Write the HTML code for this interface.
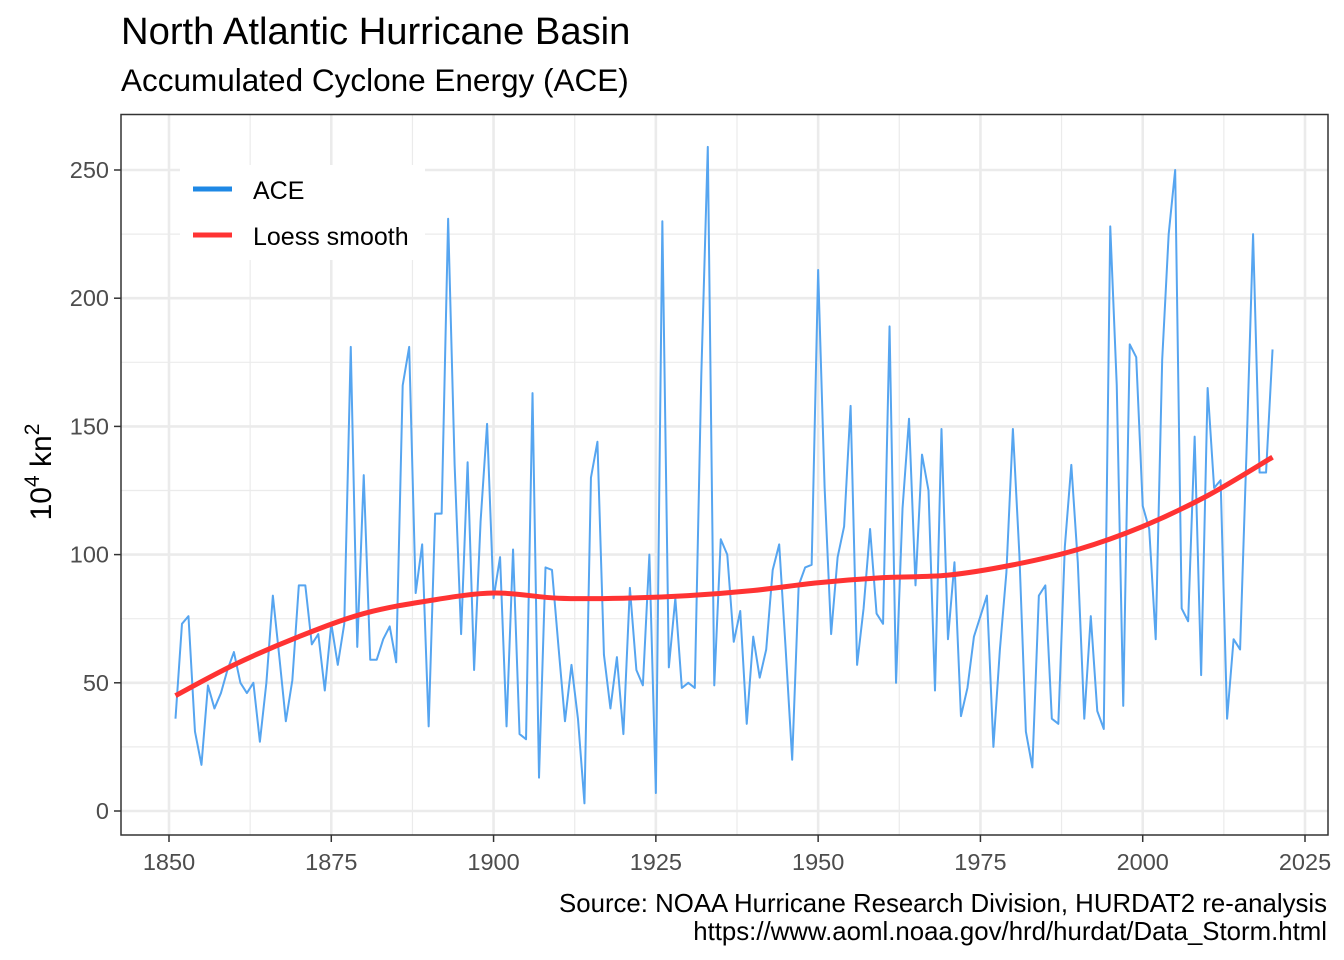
<!DOCTYPE html>
<html><head><meta charset="utf-8">
<style>
html,body{margin:0;padding:0;background:#fff;}
svg{display:block;font-family:"Liberation Sans",Arial,sans-serif;}
</style></head>
<body>
<svg id="chart" width="1344" height="960" viewBox="0 0 1344 960" xmlns="http://www.w3.org/2000/svg">
<rect width="1344" height="960" fill="#fff"/>
<text x="121" y="44" font-size="38.2" fill="#000">North Atlantic Hurricane Basin</text>
<text x="121" y="91" font-size="31.5" fill="#000">Accumulated Cyclone Energy (ACE)</text>
<g id="grid"></g>
<g id="marks"></g>
<rect x="121" y="114.5" width="1207" height="720.5" fill="none" stroke="#333" stroke-width="1.5"/>
<g id="axes"></g>
<text transform="translate(51,472) rotate(-90)" text-anchor="middle" font-size="30" fill="#000">10<tspan dy="-12" font-size="21">4</tspan><tspan dy="12"> kn</tspan><tspan dy="-12" font-size="21">2</tspan></text>
<g>
<rect x="180" y="165" width="245" height="95" fill="#fff"/>
<line x1="193" y1="189" x2="232" y2="189" stroke="#1e88e5" stroke-width="5"/>
<text x="253" y="199" font-size="25" fill="#000">ACE</text>
<line x1="193" y1="235" x2="232" y2="235" stroke="#ff3333" stroke-width="5"/>
<text x="253" y="245" font-size="25" fill="#000">Loess smooth</text>
</g>
<text x="1327" y="912" text-anchor="end" font-size="25.8" fill="#000">Source: NOAA Hurricane Research Division, HURDAT2 re-analysis</text>
<text x="1327" y="940" text-anchor="end" font-size="25.8" fill="#000">https://www.aoml.noaa.gov/hrd/hurdat/Data_Storm.html</text>
</svg>
<script>
const startYear = 1851;
const aceValues = [36,73,76,31,18,49,40,46,55,62,50,46,50,27,50,84,60,35,51,88,
88,65,69,47,73,57,73,181,64,131,59,59,67,72,58,166,181,85,104,33,
116,116,231,135,69,136,55,113,151,83,99,33,102,30,28,163,13,95,94,64,
35,57,36,3,130,144,61,40,60,30,87,55,49,100,7,230,56,83,48,50,
48,170,259,49,106,100,66,78,34,68,52,63,94,104,63,20,88,95,96,211,
126,69,99,111,158,57,79,110,77,73,189,50,118,153,88,139,125,47,149,67,
97,37,48,68,76,84,25,63,93,149,100,31,17,84,88,36,34,103,135,97,
36,76,39,32,228,166,41,182,177,119,110,67,176,225,250,79,74,146,53,165,
126,129,36,67,63,141,225,132,132,180];
const smoothYears = [1851,1860,1870,1880,1890,1900,1910,1920,1930,1940,1950,1960,1970,1980,1990,2000,2010,2020];
const smoothValues = [45,57,68,77,82,85,83,83,84,86,89,91,92,96,102,111,123,138];
const xTicks = [1850,1875,1900,1925,1950,1975,2000,2025];
const yTicks = [0,50,100,150,200,250];

const NS='http://www.w3.org/2000/svg';
const PL=121, PR=1328, PT=114, PB=835;
const xs = y => 169 + (y-1850)*(1136/175);
const ys = v => 811 - v*(641/250);
function el(tag, attrs, parent){const e=document.createElementNS(NS,tag);for(const k in attrs)e.setAttribute(k,attrs[k]);parent.appendChild(e);return e;}
const grid=document.getElementById('grid'), marks=document.getElementById('marks'), axes=document.getElementById('axes');

for(let i=0;i<yTicks.length-1;i++){const v=(yTicks[i]+yTicks[i+1])/2;
 const l=el('line',{x1:PL,x2:PR,y1:ys(v),y2:ys(v),stroke:'#ebebeb','stroke-width':1.2},grid);
 
 }
for(let i=0;i<xTicks.length-1;i++){const v=(xTicks[i]+xTicks[i+1])/2;
 const l=el('line',{y1:PT,y2:PB,x1:xs(v),x2:xs(v),stroke:'#ebebeb','stroke-width':1.2},grid);
 
 }
yTicks.forEach(v=>{
 const l=el('line',{x1:PL,x2:PR,y1:ys(v),y2:ys(v),stroke:'#ebebeb','stroke-width':2.6},grid);
 
 
 const t=el('line',{x1:PL-7,x2:PL,y1:ys(v),y2:ys(v),stroke:'#333','stroke-width':1.5},axes);
 
 
 const tx=el('text',{x:PL-12,y:ys(v)+8,'text-anchor':'end','font-size':23.5,fill:'#4d4d4d'},axes);
 tx.textContent=v;
 
 
});
xTicks.forEach(v=>{
 const l=el('line',{y1:PT,y2:PB,x1:xs(v),x2:xs(v),stroke:'#ebebeb','stroke-width':2.6},grid);
 
 
 const t=el('line',{y1:PB,y2:PB+7,x1:xs(v),x2:xs(v),stroke:'#333','stroke-width':1.5},axes);
 
 
 const tx=el('text',{x:xs(v),y:PB+35,'text-anchor':'middle','font-size':23.5,fill:'#4d4d4d'},axes);
 tx.textContent=v;
 
 
});

const years = aceValues.map((v,i)=>startYear+i);
const pts = aceValues.map((v,i)=>xs(years[i]).toFixed(2)+','+ys(v).toFixed(2)).join(' ');
const ace=el('polyline',{points:pts,fill:'none',stroke:'#56a5f0','stroke-width':2,'stroke-linejoin':'round'},marks);



const P = smoothYears.map((y,i)=>[xs(y), ys(smoothValues[i])]);
let d = 'M'+P[0][0].toFixed(2)+','+P[0][1].toFixed(2);
for(let i=0;i<P.length-1;i++){
 const p0=P[Math.max(i-1,0)],p1=P[i],p2=P[i+1],p3=P[Math.min(i+2,P.length-1)];
 const c1=[p1[0]+(p2[0]-p0[0])/6,p1[1]+(p2[1]-p0[1])/6];
 const c2=[p2[0]-(p3[0]-p1[0])/6,p2[1]-(p3[1]-p1[1])/6];
 d+=' C'+c1.map(v=>v.toFixed(2)).join(',')+' '+c2.map(v=>v.toFixed(2)).join(',')+' '+p2.map(v=>v.toFixed(2)).join(',');
}
const lo=el('path',{d:d,fill:'none',stroke:'#ff3333','stroke-width':5,'stroke-linejoin':'round'},marks);


</script>
</body></html>
